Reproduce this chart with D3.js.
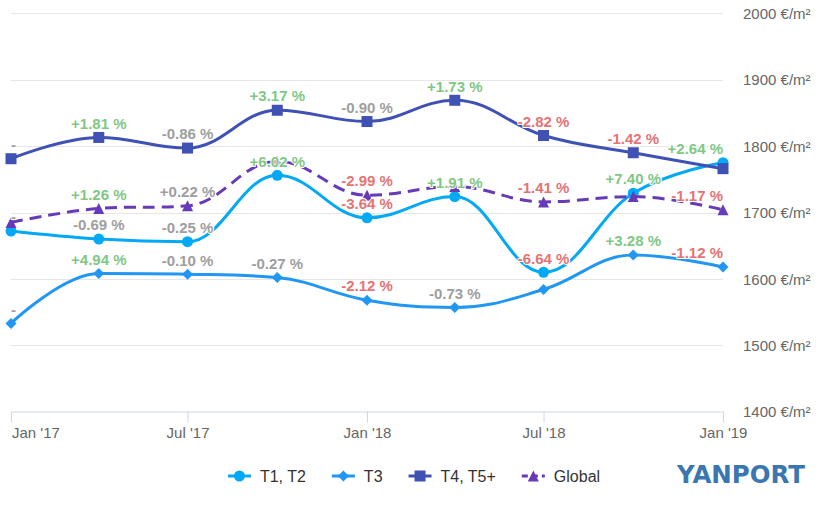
<!DOCTYPE html>
<html>
<head>
<meta charset="utf-8">
<script src="https://cdn.jsdelivr.net/npm/d3@7"></script>
<style>
  html, body { margin: 0; padding: 0; background: #fff; }
  svg { display: block; font-family: "Liberation Sans", Arial, Helvetica, sans-serif; }
</style>
</head>
<body>
<svg id="chart" width="827" height="508"></svg>
<script>
// ---------- DATA ----------
const dates = ["2017-01-01","2017-04-01","2017-07-01","2017-10-01","2018-01-01","2018-04-01","2018-07-01","2018-10-01","2019-01-01"];
const xTickDates = ["2017-01-01","2017-07-01","2018-01-01","2018-07-01","2019-01-01"];
const xTickLabels = ["Jan '17","Jul '17","Jan '18","Jul '18","Jan '19"];
const yTicks = [1400, 1500, 1600, 1700, 1800, 1900, 2000];
const yUnit = " €/m²";

const seriesNames = ["T1, T2", "T3", "T4, T5+", "Global"];

const t1t2Values = [1672, 1660, 1656, 1756, 1692, 1724, 1610, 1729, 1775];
const t3Values   = [1533, 1608, 1607, 1602, 1568, 1557, 1584, 1636, 1618];
const t4t5Values = [1781, 1813, 1797, 1854, 1837, 1869, 1816, 1790, 1766];
const globalValues = [1685, 1706, 1710, 1777, 1726, 1739, 1716, 1724, 1704];

// data labels (null = label hidden in the reference because of overlap)
const t1t2Labels = ["-", "-0.69 %", "-0.25 %", "+6.02 %", "-3.64 %", "+1.91 %", "-6.64 %", "+7.40 %", "+2.64 %"];
const t3Labels   = ["-", "+4.94 %", "-0.10 %", "-0.27 %", "-2.12 %", "-0.73 %", null, "+3.28 %", "-1.12 %"];
const t4t5Labels = ["-", "+1.81 %", "-0.86 %", "+3.17 %", "-0.90 %", "+1.73 %", "-2.82 %", "-1.42 %", null];
const globalLabels = [null, "+1.26 %", "+0.22 %", null, "-2.99 %", null, "-1.41 %", null, "-1.17 %"];

// ---------- STYLE ----------
const colors = ["#03a9f4", "#2196f3", "#3f51b5", "#673ab7"];
const symbols = ["circle", "diamond", "square", "triangle"];
const dashes = [null, null, null, "12,7"];

const series = [
  { name: seriesNames[0], values: t1t2Values, labels: t1t2Labels },
  { name: seriesNames[1], values: t3Values, labels: t3Labels },
  { name: seriesNames[2], values: t4t5Values, labels: t4t5Labels },
  { name: seriesNames[3], values: globalValues, labels: globalLabels }
];

const parse = d3.timeParse("%Y-%m-%d");
const plot = { left: 11, right: 723, top: 13.3, bottom: 411.7 };

const svg = d3.select("#chart");

const x = d3.scaleTime()
  .domain([parse(dates[0]), parse(dates[dates.length - 1])])
  .range([plot.left, plot.right]);
const y = d3.scaleLinear()
  .domain([1400, 2000])
  .range([plot.bottom, plot.top]);

// ---------- GRID + Y AXIS (right) ----------
const yAxis = d3.axisRight(y)
  .tickValues(yTicks)
  .tickSize(0)
  .tickFormat(d => d + yUnit);
const gy = svg.append("g")
  .attr("transform", `translate(${plot.right + 20},0)`)
  .call(yAxis);
gy.select(".domain").remove();
gy.selectAll("text")
  .attr("x", 0)
  .attr("dy", "0.35em")
  .attr("fill", "#666")
  .style("font-size", "15px")
  .style("font-family", "'Liberation Sans', Arial, sans-serif");

svg.append("g").selectAll("line")
  .data(yTicks.filter(v => v !== 1400))
  .join("line")
  .attr("x1", plot.left).attr("x2", plot.right)
  .attr("y1", d => Math.round(y(d)) + 0.5).attr("y2", d => Math.round(y(d)) + 0.5)
  .attr("stroke", "#e6e6e6").attr("stroke-width", 1);

// ---------- X AXIS ----------
const xAxis = d3.axisBottom(x)
  .tickValues(xTickDates.map(parse))
  .tickSize(11)
  .tickSizeOuter(0)
  .tickFormat((d, i) => xTickLabels[i]);
const gx = svg.append("g")
  .attr("transform", `translate(0,${Math.round(plot.bottom) - 0.5})`)
  .call(xAxis);
gx.select(".domain").attr("stroke", "#ccd6eb");
gx.selectAll(".tick line").attr("stroke", "#ccd6eb");
gx.selectAll(".tick text")
  .attr("y", 21)
  .attr("dy", "0.35em")
  .attr("fill", "#666")
  .style("font-size", "15px")
  .style("font-family", "'Liberation Sans', Arial, sans-serif");
// keep first label inside the chart (justify like the original)
gx.selectAll(".tick text").each(function () {
  const bb = this.getBBox();
  const tr = this.parentNode.transform.baseVal.consolidate().matrix.e;
  const left = tr + bb.x;
  if (left < 12) d3.select(this).attr("x", 12 - left);
});

// ---------- Highcharts-like spline ----------
function splinePath(pts) {
  const smoothing = 1.5, denom = smoothing + 1;
  const ctrl = pts.map(() => ({}));
  for (let i = 1; i < pts.length - 1; i++) {
    const [px, py] = pts[i], [lx, ly] = pts[i - 1], [nx, ny] = pts[i + 1];
    let lcx = (smoothing * px + lx) / denom, lcy = (smoothing * py + ly) / denom;
    let rcx = (smoothing * px + nx) / denom, rcy = (smoothing * py + ny) / denom;
    if (rcx !== lcx) {
      const corr = ((rcy - lcy) * (rcx - px)) / (rcx - lcx) + py - rcy;
      lcy += corr; rcy += corr;
      if (lcy > ly && lcy > py) { lcy = Math.max(ly, py); rcy = 2 * py - lcy; }
      else if (lcy < ly && lcy < py) { lcy = Math.min(ly, py); rcy = 2 * py - lcy; }
      if (rcy > ny && rcy > py) { rcy = Math.max(ny, py); lcy = 2 * py - rcy; }
      else if (rcy < ny && rcy < py) { rcy = Math.min(ny, py); lcy = 2 * py - rcy; }
    }
    ctrl[i] = { lcx, lcy, rcx, rcy };
  }
  const p = d3.path();
  p.moveTo(pts[0][0], pts[0][1]);
  for (let i = 1; i < pts.length; i++) {
    const prev = ctrl[i - 1], cur = ctrl[i];
    const c1x = prev.rcx !== undefined ? prev.rcx : pts[i - 1][0];
    const c1y = prev.rcy !== undefined ? prev.rcy : pts[i - 1][1];
    const c2x = cur.lcx !== undefined ? cur.lcx : pts[i][0];
    const c2y = cur.lcy !== undefined ? cur.lcy : pts[i][1];
    p.bezierCurveTo(c1x, c1y, c2x, c2y, pts[i][0], pts[i][1]);
  }
  return p.toString();
}

function markerPath(type, r) {
  const p = d3.path();
  if (type === "circle") {
    p.arc(0, 0, r, 0, 2 * Math.PI);
  } else if (type === "square") {
    p.rect(-r, -r, 2 * r, 2 * r);
  } else if (type === "diamond") {
    p.moveTo(0, -r); p.lineTo(r, 0); p.lineTo(0, r); p.lineTo(-r, 0); p.closePath();
  } else if (type === "triangle") {
    p.moveTo(0, -r); p.lineTo(r, r); p.lineTo(-r, r); p.closePath();
  }
  return p.toString();
}
const markerR = { circle: 5.5, square: 5.5, diamond: 5.5, triangle: 5.5 };

// ---------- SERIES ----------
const seriesG = svg.append("g");
series.forEach((s, si) => {
  const pts = s.values.map((v, i) => [x(parse(dates[i])), y(v)]);
  const g = seriesG.append("g");
  g.append("path")
    .attr("d", splinePath(pts))
    .attr("fill", "none")
    .attr("stroke", colors[si])
    .attr("stroke-width", 3)
    .attr("stroke-linejoin", "round")
    .attr("stroke-linecap", dashes[si] ? "butt" : "round")
    .attr("stroke-dasharray", dashes[si]);
  g.selectAll("path.marker")
    .data(pts)
    .join("path")
    .attr("class", "marker")
    .attr("transform", d => `translate(${d[0]},${d[1]})`)
    .attr("d", markerPath(symbols[si], markerR[symbols[si]]))
    .attr("fill", colors[si]);
});

// ---------- DATA LABELS ----------
function labelColor(t) {
  if (t === "-") return "#9e9e9e";
  const v = parseFloat(t.replace(/[^\d.+-]/g, ""));
  if (Math.abs(v) < 1) return "#9e9e9e";
  return v > 0 ? "#81c784" : "#e57373";
}
const labelsG = svg.append("g");
series.forEach((s, si) => {
  s.values.forEach((v, i) => {
    const t = s.labels[i];
    if (t == null) return;
    const px = x(parse(dates[i])), py = y(v);
    const txt = labelsG.append("text")
      .attr("x", px)
      .attr("y", py - 14)
      .attr("dy", "0.35em")
      .attr("text-anchor", "middle")
      .attr("fill", labelColor(t))
      .attr("stroke", "#fff")
      .attr("stroke-width", 2)
      .attr("stroke-linejoin", "round")
      .attr("paint-order", "stroke")
      .style("font-size", "15px")
      .style("font-weight", "bold")
      .text(t);
    const w = txt.node().getComputedTextLength();
    let cx = px;
    if (cx - w / 2 < plot.left) cx = plot.left + w / 2;
    if (cx + w / 2 > plot.right) cx = plot.right - w / 2;
    txt.attr("x", cx);
  });
});

// ---------- LEGEND ----------
const legend = svg.append("g").attr("transform", "translate(0,476)");
const symW = 23, symGap = 9, itemGap = 26;
const items = [];
series.forEach((s, si) => {
  const ig = legend.append("g");
  ig.append("line")
    .attr("x1", 0).attr("x2", symW).attr("y1", 0).attr("y2", 0)
    .attr("stroke", colors[si]).attr("stroke-width", 3)
    .attr("stroke-dasharray", dashes[si] ? "6,4" : null);
  ig.append("path")
    .attr("transform", `translate(${symW / 2},0)`)
    .attr("d", markerPath(symbols[si], 5.5))
    .attr("fill", colors[si]);
  const tx = ig.append("text")
    .attr("x", symW + symGap)
    .attr("dy", "0.35em")
    .attr("fill", "#333")
    .style("font-size", "16px")
    .text(s.name);
  const w = symW + symGap + tx.node().getComputedTextLength();
  items.push({ g: ig, w });
});
const totalW = d3.sum(items, d => d.w) + itemGap * (items.length - 1);
let start = 414 - totalW / 2;
items.forEach(it => {
  it.g.attr("transform", `translate(${start},0)`);
  start += it.w + itemGap;
});

// ---------- LOGO ----------
svg.append("text")
  .attr("x", 677)
  .attr("y", 483)
  .attr("fill", "#3a76b0")
  .attr("textLength", 128)
  .attr("lengthAdjust", "spacingAndGlyphs")
  .style("font-family", "'DejaVu Sans', 'Liberation Sans', sans-serif")
  .style("font-size", "25px")
  .style("font-weight", "bold")
  .text("YANPORT");
</script>
</body>
</html>
